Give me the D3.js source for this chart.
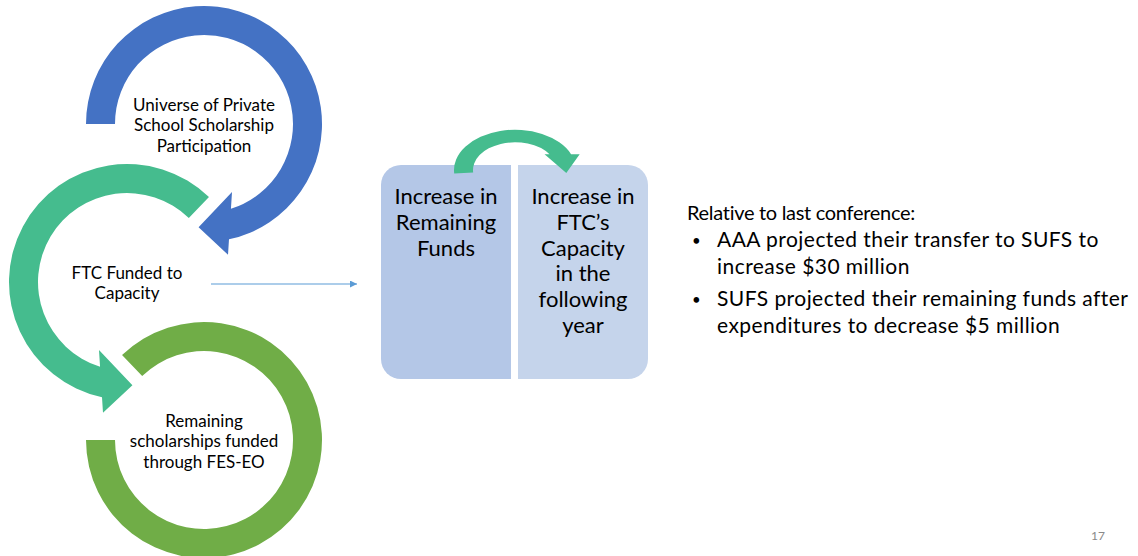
<!DOCTYPE html>
<html>
<head>
<meta charset="utf-8">
<script src="https://cdn.jsdelivr.net/npm/d3@7"></script>
<style>
  html, body { margin: 0; padding: 0; background: #fff; }
  svg { display: block; font-family: Lato, "Open Sans", sans-serif; }
</style>
</head>
<body>
<div id="slide"></div>
<script>
// labels and colours of the three-step cycle on the left
var cycleLabels = [
  ["Universe of Private", "School Scholarship", "Participation"],
  ["FTC Funded to", "Capacity"],
  ["Remaining", "scholarships funded", "through FES-EO"]
];
var cycleColors = ["#4472C4", "#45BC8E", "#70AD47"];

// the two boxes in the middle
var boxLabels = [
  ["Increase in", "Remaining", "Funds"],
  ["Increase in", "FTC\u2019s", "Capacity", "in the", "following", "year"]
];
var boxColors = ["#B4C7E7", "#C5D4EB"];

// text on the right
var introLine = "Relative to last conference:";
var bullets = [
  ["AAA projected their transfer to SUFS to", "increase $30 million"],
  ["SUFS projected their remaining funds after", "expenditures to decrease $5 million"]
];
var pageNumber = "17";

var w = 1138, h = 556;

var svg = d3.select("#slide").append("svg")
  .attr("width", w)
  .attr("height", h);

function rad(a) { return a * Math.PI / 180; }
// point at radius r, angle a (degrees, 0 = 12 o'clock, clockwise)
function pt(r, a) { return [r * Math.sin(rad(a)), -r * Math.cos(rad(a))]; }
function angleOf(p) { return Math.atan2(p[0], -p[1]) * 180 / Math.PI; }

// where the head base (segment p->q) crosses the circle of radius r
function crossCircle(p, q, r) {
  var dx = q[0] - p[0], dy = q[1] - p[1];
  var A = dx * dx + dy * dy, B = 2 * (p[0] * dx + p[1] * dy), C = p[0] * p[0] + p[1] * p[1] - r * r;
  var t = (-B + Math.sqrt(B * B - 4 * A * C)) / (2 * A);
  return [p[0] + t * dx, p[1] + t * dy];
}

// circular arrow, angles given for a clockwise arrow and mirrored when dir = -1
function circularArrow(o) {
  var rMid = (o.rIn + o.rOut) / 2;
  var ci = pt(o.rIn - o.extIn, o.cornerIn), co = pt(o.rOut + o.extOut, o.cornerOut);
  var aIn = angleOf(crossCircle(ci, co, o.rIn));
  var aOut = angleOf(crossCircle(ci, co, o.rOut));
  var d = o.dir;
  var p = d3.path();
  var s = pt(o.rOut, d * o.start);
  p.moveTo(s[0], s[1]);
  p.arc(0, 0, o.rOut, rad(d * o.start) - Math.PI / 2, rad(d * aOut) - Math.PI / 2, d < 0);
  var c1 = pt(o.rOut + o.extOut, d * o.cornerOut), tip = pt(rMid, d * o.tip), c2 = pt(o.rIn - o.extIn, d * o.cornerIn);
  p.lineTo(c1[0], c1[1]);
  p.lineTo(tip[0], tip[1]);
  p.lineTo(c2[0], c2[1]);
  var n = pt(o.rIn, d * aIn);
  p.lineTo(n[0], n[1]);
  p.arc(0, 0, o.rIn, rad(d * aIn) - Math.PI / 2, rad(d * o.start) - Math.PI / 2, d > 0);
  p.closePath();
  return p.toString();
}

// ---- left cycle ----
var rings = [
  { cx: 204, cy: 124, dir: 1, start: -90 },
  { cx: 127, cy: 282, dir: -1, start: -44 },
  { cx: 204, cy: 440, dir: 1, start: -44, end: 270 }
];
var rIn = 89, rOut = 118;

rings.forEach(function (r, i) {
  var g = svg.append("g").attr("transform", "translate(" + r.cx + "," + r.cy + ")");
  var d;
  if (r.end !== undefined) {
    d = d3.arc().innerRadius(rIn).outerRadius(rOut)
      .startAngle(rad(r.start)).endAngle(rad(r.end))();
  } else {
    d = circularArrow({ rIn: rIn, rOut: rOut, extIn: 15.5, extOut: 15, dir: r.dir, start: r.start,
      cornerIn: 157.6, cornerOut: 169.6, tip: 183 });
  }
  g.append("path").attr("d", d).attr("fill", cycleColors[i]);

  var lines = cycleLabels[i];
  g.append("text")
    .attr("text-anchor", "middle")
    .attr("font-size", 17)
    .attr("fill", "#000")
    .selectAll("tspan")
    .data(lines)
    .join("tspan")
    .attr("x", 0)
    .attr("y", function (t, j) { return 7 + (j - (lines.length - 1) / 2) * 20.5; })
    .text(function (t) { return t; });
});

// thin connector arrow
svg.append("defs").append("marker")
  .attr("id", "tri")
  .attr("viewBox", "0 0 10 10")
  .attr("refX", 10).attr("refY", 5)
  .attr("markerWidth", 7).attr("markerHeight", 7)
  .attr("markerUnits", "userSpaceOnUse")
  .attr("orient", "auto")
  .append("path").attr("d", "M0,0L10,5L0,10Z").attr("fill", "#5B9BD5");

svg.append("line")
  .attr("x1", 211).attr("y1", 284)
  .attr("x2", 357).attr("y2", 284)
  .attr("stroke", "#5B9BD5")
  .attr("stroke-width", 1.2)
  .attr("marker-end", "url(#tri)");

// ---- middle boxes ----
var bx = d3.scaleBand().domain(d3.range(boxLabels.length)).range([381, 648]).paddingInner(0.051);
var boxTop = 165, boxBottom = 379, cr = 20;

function halfRounded(x0, x1, y0, y1, left) {
  var p = d3.path();
  if (left) {
    p.moveTo(x1, y0); p.lineTo(x0 + cr, y0);
    p.arcTo(x0, y0, x0, y0 + cr, cr);
    p.lineTo(x0, y1 - cr);
    p.arcTo(x0, y1, x0 + cr, y1, cr);
    p.lineTo(x1, y1);
  } else {
    p.moveTo(x0, y0); p.lineTo(x1 - cr, y0);
    p.arcTo(x1, y0, x1, y0 + cr, cr);
    p.lineTo(x1, y1 - cr);
    p.arcTo(x1, y1, x1 - cr, y1, cr);
    p.lineTo(x0, y1);
  }
  p.closePath();
  return p.toString();
}

boxLabels.forEach(function (lines, i) {
  var x0 = bx(i), x1 = bx(i) + bx.bandwidth();
  svg.append("path")
    .attr("d", halfRounded(x0, x1, boxTop, boxBottom, i === 0))
    .attr("fill", boxColors[i]);
  svg.append("text")
    .attr("text-anchor", "middle")
    .attr("font-size", 22)
    .attr("fill", "#000")
    .selectAll("tspan")
    .data(lines)
    .join("tspan")
    .attr("x", (x0 + x1) / 2)
    .attr("y", function (t, j) { return 204 + j * 25.8; })
    .text(function (t) { return t; });
});

// small arrow over the boxes (a flattened circular arrow)
svg.append("g")
  .attr("transform", "translate(515,170) scale(1,0.66)")
  .append("path")
  .attr("d", circularArrow({ rIn: 42, rOut: 61, extIn: 4, extOut: 8, dir: 1, start: -95,
    cornerIn: 51, cornerOut: 69.6, tip: 95 }))
  .attr("fill", cycleColors[1]);

// ---- right text ----
var rt = svg.append("g").attr("font-size", 21).attr("fill", "#000");
rt.append("text").attr("x", 687).attr("y", 220)
  .attr("font-size", 20)
  .attr("letter-spacing", -0.3)
  .text(introLine);

var lineY = [[247, 274], [306, 333]];
bullets.forEach(function (lines, i) {
  rt.append("text").attr("x", 692).attr("y", lineY[i][0] - 1)
    .attr("font-size", 15).text("\u2022");
  lines.forEach(function (t, j) {
    rt.append("text").attr("x", 717).attr("y", lineY[i][j])
      .attr("letter-spacing", 0.45)
      .text(t);
  });
});

svg.append("text")
  .attr("x", 1098).attr("y", 540)
  .attr("text-anchor", "middle")
  .attr("font-size", 12)
  .attr("fill", "#898989")
  .text(pageNumber);
</script>
</body>
</html>
